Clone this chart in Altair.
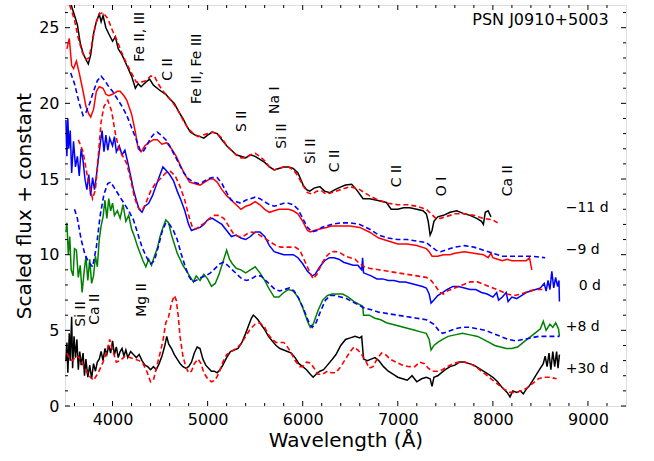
import altair as alt
import pandas as pd

# ---------------- data ----------------
# -11 d observed (black) and model (red dashed)
wl_m11_obs = [3520,3560,3600,3630,3660,3690,3720,3745,3770,3800,3830,3860,3880,3900,3930,3960,4000,4030,4060,4100,4150,4200,4240,4270,4300,4350,4390,4430,4470,4510,4560,4600,4650,4700,4740,4780,4820,4870,4920,4960,5000,5050,5100,5150,5200,5250,5300,5350,5400,5450,5500,5550,5600,5650,5700,5750,5800,5850,5900,5950,6005,6040,6075,6120,6180,6230,6285,6340,6390,6450,6515,6565,6635,6705,6780,6880,6930,7000,7060,7126,7200,7265,7300,7320,7340,7360,7380,7420,7480,7550,7620,7700,7760,7830,7880,7900,7920,7950,7980]
fl_m11_obs = [27.5,26.6,25.8,25.2,24.0,23.3,22.9,22.6,23.2,24.6,25.4,25.9,25.4,25.8,25.0,24.6,24.1,24.4,23.6,23.2,22.5,21.8,21.0,21.3,21.1,21.4,21.6,21.2,21.0,20.8,20.6,20.3,20.0,19.4,19.0,18.5,18.1,17.9,17.8,17.7,17.9,18.1,18.0,17.6,17.2,16.9,16.6,16.5,16.4,16.6,16.5,16.3,16.1,15.8,15.6,15.7,15.8,15.8,15.7,15.4,14.6,14.3,14.2,14.4,14.5,14.2,14.1,14.3,14.45,14.6,14.65,14.3,13.7,13.7,13.6,13.45,13.0,13.0,13.1,13.1,13.0,12.9,12.7,12.2,11.3,11.6,12.2,12.5,12.6,12.8,12.9,12.7,12.6,12.4,12.2,12.0,12.8,12.9,12.5]
wl_m11_mod = [3520,3560,3600,3640,3680,3720,3750,3780,3820,3860,3900,3950,4000,4050,4100,4150,4200,4250,4300,4350,4400,4440,4480,4520,4560,4600,4650,4700,4750,4800,4850,4900,4950,5000,5050,5100,5150,5200,5250,5300,5350,5400,5450,5500,5550,5600,5650,5700,5750,5800,5850,5900,5950,6000,6050,6100,6150,6200,6250,6300,6400,6500,6600,6700,6800,6900,7000,7100,7200,7300,7350,7400,7450,7500,7600,7700,7800,7900,8000,8050]
fl_m11_mod = [27.0,26.3,25.5,24.3,23.4,22.9,23.0,23.8,25.2,25.9,26.0,25.6,24.8,24.1,23.3,22.6,22.0,21.4,21.4,21.5,21.8,21.8,21.3,20.9,20.6,20.3,19.9,19.4,18.8,18.3,18.0,17.8,17.9,18.0,18.1,18.0,17.7,17.2,16.9,16.6,16.4,16.4,16.6,16.7,16.5,16.2,15.8,15.6,15.7,15.8,15.8,15.6,15.2,14.6,14.1,14.0,14.2,14.2,14.0,14.1,14.3,14.5,14.3,13.9,13.6,13.4,13.3,13.3,13.2,13.0,12.7,12.4,12.4,12.5,12.7,12.7,12.6,12.4,12.3,12.1]

# -9 d observed (red) and model (blue dashed)
wl_m9_obs = [3520,3545,3570,3590,3620,3650,3690,3720,3750,3770,3800,3830,3860,3900,3930,3960,4000,4050,4080,4120,4150,4200,4240,4270,4300,4340,4380,4430,4470,4520,4570,4620,4670,4720,4770,4810,4860,4920,4970,5020,5060,5100,5150,5200,5250,5300,5350,5400,5450,5500,5550,5600,5650,5700,5750,5800,5850,5900,5950,6000,6050,6080,6120,6180,6250,6300,6400,6500,6600,6700,6800,6900,7000,7100,7200,7300,7330,7360,7420,7480,7550,7600,7700,7800,7900,7950,7980,8000,8050,8100,8150,8200,8250,8300,8350,8385,8400,8410]
fl_m9_obs = [23.6,24.3,22.5,22.3,22.8,22.0,20.8,19.8,19.3,19.1,19.6,20.8,21.1,21.0,20.6,20.5,20.6,20.8,20.8,20.5,20.2,19.3,18.1,17.0,16.8,17.2,17.4,17.6,17.6,17.3,17.4,17.0,16.5,15.8,15.2,14.8,14.7,14.6,14.8,15.0,15.0,14.8,14.3,13.9,13.6,13.3,13.0,13.2,13.3,13.5,13.3,13.0,12.8,12.9,13.0,13.0,13.0,12.9,12.7,12.2,11.6,11.5,11.6,11.7,11.8,11.9,11.9,11.9,11.8,11.5,11.1,10.9,10.7,10.7,10.6,10.4,10.2,9.9,9.9,10.0,10.0,10.1,10.2,10.1,10.0,9.8,10.1,9.8,9.7,9.6,9.7,9.6,9.6,9.6,9.6,9.8,9.3,9.0]
wl_m9_mod = [3560,3600,3650,3690,3720,3760,3800,3840,3880,3920,3960,4000,4050,4100,4150,4200,4250,4290,4320,4360,4400,4440,4470,4510,4560,4600,4650,4700,4750,4800,4850,4900,4950,5000,5050,5100,5150,5200,5250,5300,5350,5400,5450,5500,5550,5600,5650,5700,5750,5800,5850,5900,5950,6000,6050,6100,6150,6200,6300,6400,6500,6600,6700,6800,6900,7000,7100,7200,7300,7400,7450,7500,7600,7700,7800,7900,8000,8100,8200,8300,8400,8550]
fl_m9_mod = [22.0,21.3,20.0,19.2,19.4,20.0,20.8,21.5,21.8,21.5,21.1,20.8,20.3,19.8,19.2,18.4,17.6,16.9,16.8,17.2,17.7,18.0,18.1,17.9,17.6,17.2,16.6,16.0,15.4,15.0,14.8,14.7,14.8,15.0,15.1,15.1,14.7,14.1,13.6,13.5,13.4,13.6,13.7,13.8,13.7,13.5,13.3,13.2,13.3,13.4,13.4,13.3,13.0,12.4,11.8,11.5,11.6,11.8,12.0,12.1,12.1,12.0,11.7,11.3,11.1,11.0,11.0,10.9,10.8,10.3,10.2,10.3,10.5,10.6,10.5,10.3,10.1,9.9,9.9,9.9,9.9,9.8]

# 0 d observed (blue) and model (red dashed)
wl_0_obs = [3510,3520,3530,3540,3555,3570,3590,3610,3630,3650,3670,3690,3710,3730,3750,3770,3790,3810,3830,3850,3870,3890,3910,3930,3950,3970,4000,4020,4040,4070,4100,4130,4160,4190,4220,4250,4280,4310,4340,4380,4420,4460,4500,4530,4560,4600,4640,4680,4720,4760,4800,4830,4870,4920,4960,5000,5050,5100,5150,5200,5250,5300,5350,5400,5450,5500,5550,5600,5650,5700,5750,5800,5850,5900,5950,6000,6050,6100,6130,6180,6230,6280,6330,6380,6430,6480,6530,6580,6620,6630,6640,6680,6720,6780,6840,6900,6960,7020,7080,7140,7200,7260,7300,7330,7350,7380,7420,7470,7520,7580,7640,7700,7760,7820,7880,7940,8000,8040,8060,8100,8140,8160,8200,8250,8300,8350,8400,8450,8500,8540,8560,8580,8600,8620,8640,8660,8680,8695,8700]
fl_0_obs = [18.9,16.5,19.0,17.0,18.2,15.4,17.5,15.8,16.5,15.2,17.0,16.2,15.0,14.3,15.3,13.9,15.1,14.3,15.2,16.3,17.3,18.2,16.8,17.9,16.9,17.7,17.2,17.8,16.8,17.2,16.6,16.9,16.1,15.2,14.3,13.6,13.0,12.8,13.2,13.4,13.9,14.6,15.3,15.8,15.6,15.3,14.9,14.2,13.6,12.9,12.0,11.6,11.7,11.8,12.0,12.3,12.4,12.2,12.0,11.6,11.2,11.3,11.1,11.0,11.2,11.5,11.5,11.2,10.6,10.2,10.1,10.0,10.0,10.0,9.8,9.4,8.9,8.6,8.7,9.2,9.6,9.8,9.8,9.7,9.5,9.4,9.3,9.3,9.0,9.8,8.8,8.7,8.6,8.4,8.4,8.3,8.3,8.2,8.2,8.1,8.0,7.9,7.8,7.4,6.8,7.0,7.3,7.5,7.7,7.9,7.9,7.8,7.7,7.7,7.5,7.4,7.2,7.5,7.0,7.2,7.5,6.9,7.2,7.1,7.3,7.5,7.6,7.7,7.8,8.1,7.6,8.3,7.7,8.9,7.8,8.5,7.9,8.3,6.9]
wl_0_mod = [3640,3690,3740,3790,3820,3850,3880,3910,3950,3990,4030,4070,4110,4150,4190,4230,4270,4310,4350,4400,4450,4500,4560,4610,4660,4710,4760,4800,4840,4880,4920,4970,5020,5070,5120,5170,5220,5270,5320,5370,5420,5470,5520,5570,5620,5670,5720,5770,5820,5870,5920,5970,6020,6070,6110,6150,6200,6250,6300,6350,6400,6450,6500,6550,6600,6650,6700,6800,6900,7000,7100,7200,7300,7350,7400,7440,7480,7520,7600,7680,7760,7840,7920,8000,8080,8150,8220,8300,8380,8450,8530]
fl_0_mod = [17.6,16.8,15.0,13.7,14.3,16.5,18.8,19.8,20.2,19.5,18.0,16.9,16.5,16.0,15.0,13.8,13.1,12.9,13.4,14.2,14.7,15.0,15.4,15.5,15.2,14.5,13.6,12.6,11.8,11.7,11.9,12.1,12.4,12.6,12.6,12.4,11.9,11.4,11.2,11.2,11.4,11.5,11.4,11.2,11.0,10.8,10.6,10.5,10.5,10.5,10.5,10.3,9.6,8.9,8.4,8.7,9.4,9.9,10.2,10.2,10.1,9.9,9.8,9.7,9.4,9.2,9.1,9.0,8.9,8.8,8.7,8.6,8.5,8.3,7.9,7.5,7.4,7.6,7.8,8.0,8.2,8.2,8.0,7.8,7.6,7.4,7.3,7.4,7.6,7.7,7.7]

# +8 d observed (green) and model (blue dashed)
wl_p8_obs = [3510,3520,3535,3550,3565,3585,3600,3620,3640,3660,3680,3700,3720,3740,3760,3780,3800,3820,3840,3860,3880,3900,3920,3940,3960,3980,4000,4020,4050,4080,4110,4140,4170,4200,4230,4260,4290,4320,4350,4380,4410,4440,4470,4500,4530,4560,4590,4620,4650,4680,4710,4740,4780,4820,4850,4880,4920,4960,5000,5040,5080,5120,5160,5200,5230,5260,5300,5350,5400,5450,5500,5550,5600,5650,5700,5750,5800,5850,5900,5950,6000,6050,6080,6110,6160,6210,6260,6310,6360,6420,6480,6540,6600,6630,6640,6700,6760,6820,6880,6940,7000,7060,7120,7180,7240,7300,7330,7350,7380,7420,7470,7530,7600,7680,7760,7840,7900,7960,8020,8080,8140,8200,8260,8320,8380,8420,8460,8500,8530,8560,8600,8630,8660,8690,8700]
fl_p8_obs = [11.5,12.1,10.0,11.2,9.0,8.6,10.4,10.3,8.5,9.3,7.5,8.8,9.9,8.3,9.7,8.1,8.6,9.9,9.2,11.0,11.9,12.5,13.6,12.4,13.7,12.9,13.4,12.6,12.9,12.4,13.3,12.2,12.6,11.7,11.2,10.6,10.1,9.6,9.2,9.7,9.3,9.9,10.4,11.2,11.8,12.3,12.1,11.3,10.7,10.1,9.7,9.3,8.9,8.5,8.2,8.6,8.3,8.7,8.4,7.9,8.1,8.7,9.5,10.3,9.7,9.4,9.1,9.0,8.8,9.0,9.2,8.8,8.3,7.7,7.2,7.2,7.5,7.7,7.6,7.2,6.5,5.6,5.2,5.4,6.3,7.0,7.3,7.4,7.4,7.4,7.2,6.9,6.7,6.6,6.0,6.0,5.8,5.7,5.5,5.4,5.3,5.2,5.1,5.0,4.9,4.8,4.4,3.7,4.0,4.2,4.4,4.6,4.7,4.8,4.7,4.6,4.4,4.2,4.0,3.9,3.8,3.8,3.9,4.2,4.5,4.7,4.9,5.1,5.6,5.0,5.4,5.2,5.5,5.1,4.6]
wl_p8_mod = [3600,3630,3670,3710,3750,3790,3830,3870,3910,3950,3980,4020,4070,4120,4170,4220,4270,4310,4360,4400,4440,4480,4520,4560,4600,4640,4680,4720,4760,4800,4840,4880,4930,4980,5030,5080,5130,5170,5210,5260,5310,5360,5410,5460,5510,5560,5610,5660,5710,5760,5810,5860,5910,5960,6010,6060,6100,6140,6190,6240,6290,6340,6400,6460,6520,6580,6640,6700,6800,6900,7000,7100,7200,7300,7380,7430,7470,7520,7600,7680,7760,7840,7920,8000,8080,8160,8240,8320,8400,8480,8560,8640,8700]
fl_p8_mod = [13.0,12.4,11.0,10.0,9.5,9.2,10.5,12.6,14.0,14.7,14.8,14.4,13.9,13.4,12.9,12.3,11.3,10.5,9.8,9.4,9.6,10.5,11.5,12.1,12.0,11.6,11.0,10.1,9.3,8.6,8.2,8.3,8.5,8.6,8.8,9.1,9.4,9.5,9.3,9.0,8.7,8.4,8.3,8.4,8.6,8.6,8.3,8.0,7.7,7.6,7.7,7.8,7.6,7.1,6.4,5.6,5.2,5.5,6.3,7.0,7.3,7.3,7.2,7.1,6.9,6.7,6.5,6.4,6.2,6.1,6.0,5.9,5.8,5.7,5.4,5.0,4.8,4.9,5.1,5.2,5.2,5.1,5.0,4.8,4.6,4.4,4.3,4.4,4.5,4.6,4.6,4.6,4.6]

# +30 d observed (black) and model (red dashed)
wl_p30_obs = [3510,3520,3530,3545,3555,3570,3580,3595,3610,3625,3640,3655,3670,3690,3705,3720,3740,3760,3780,3800,3820,3840,3860,3880,3900,3920,3940,3960,3980,4000,4020,4040,4060,4080,4100,4120,4140,4160,4190,4220,4250,4280,4310,4340,4370,4400,4430,4460,4490,4520,4550,4570,4590,4620,4650,4680,4710,4740,4770,4800,4830,4860,4890,4920,4950,4980,5010,5040,5070,5100,5130,5160,5200,5240,5280,5320,5360,5400,5430,5460,5480,5500,5530,5560,5600,5640,5680,5720,5760,5800,5840,5880,5920,5960,6000,6040,6080,6110,6140,6180,6220,6260,6300,6350,6400,6450,6500,6550,6600,6620,6640,6680,6720,6760,6800,6850,6900,6950,7000,7050,7100,7150,7200,7250,7300,7340,7360,7380,7420,7460,7500,7550,7600,7650,7700,7750,7800,7850,7900,7950,8000,8050,8100,8150,8180,8210,8250,8290,8320,8350,8380,8420,8460,8500,8530,8550,8570,8590,8610,8630,8650,8670,8685,8700]
fl_p30_obs = [3.0,4.2,2.2,4.8,3.0,5.9,2.5,4.6,3.2,4.4,2.4,3.6,2.7,3.5,2.0,3.1,1.9,2.7,1.8,2.8,2.3,2.9,3.1,3.6,3.0,3.8,3.4,4.0,3.5,4.3,3.4,3.9,3.2,3.6,3.8,3.3,3.7,3.2,3.6,3.4,3.2,3.4,3.0,2.7,2.6,2.4,2.6,2.4,2.8,3.3,4.0,4.6,4.1,3.8,3.4,3.1,2.8,2.6,2.5,2.6,2.9,3.5,3.9,3.8,3.1,2.7,2.5,2.3,2.3,2.2,2.4,2.7,3.2,3.6,3.7,3.8,4.2,4.8,5.3,5.8,6.0,5.9,5.7,5.4,5.05,4.6,4.3,4.0,3.8,3.7,3.6,3.5,3.2,2.8,2.6,2.4,2.1,1.9,2.1,2.3,2.4,2.7,3.0,3.4,4.0,4.4,4.5,4.6,4.5,4.6,3.1,3.0,3.1,3.2,3.0,2.6,2.3,2.1,1.9,1.8,1.7,2.0,1.6,1.8,1.9,1.8,1.3,1.9,2.0,2.2,2.4,2.6,2.7,2.9,2.9,2.8,2.7,2.5,2.3,2.1,1.9,1.6,1.2,0.9,0.6,1.0,0.9,1.0,0.8,1.1,1.3,1.7,2.1,2.5,2.8,3.3,2.6,3.5,2.4,3.6,2.6,3.6,2.5,3.4]
wl_p30_mod = [3520,3550,3580,3620,3650,3700,3750,3800,3850,3900,3940,3970,4000,4040,4080,4130,4180,4230,4280,4320,4360,4400,4430,4460,4500,4530,4560,4590,4620,4650,4670,4690,4710,4740,4770,4800,4830,4860,4900,4930,4960,5000,5040,5080,5120,5160,5200,5250,5300,5350,5400,5450,5500,5550,5600,5640,5680,5720,5760,5800,5830,5870,5920,5970,6000,6040,6080,6120,6160,6210,6260,6300,6350,6400,6450,6500,6540,6580,6620,6660,6700,6740,6780,6830,6870,6920,6980,7050,7120,7180,7230,7280,7320,7370,7420,7470,7520,7580,7640,7700,7760,7820,7880,7940,8000,8060,8120,8180,8240,8300,8360,8420,8480,8530,8600,8670]
fl_p30_mod = [3.5,3.1,3.0,3.3,3.2,2.6,2.0,1.7,2.2,2.9,3.6,4.4,3.7,2.9,3.0,3.3,3.2,3.1,3.0,2.8,2.3,1.6,1.7,2.5,3.5,4.3,5.5,5.9,6.8,7.3,7.0,6.0,4.6,3.3,2.6,2.2,2.3,2.8,3.1,2.8,2.2,1.8,1.6,1.7,2.2,2.9,3.4,3.6,3.8,4.1,4.6,5.1,5.4,5.5,5.2,4.7,4.4,4.2,4.2,4.2,4.0,3.6,3.0,2.6,2.6,2.9,2.85,2.5,2.1,2.1,2.3,2.2,2.2,2.6,3.1,3.6,3.9,3.7,3.4,3.0,2.5,2.6,3.1,3.5,3.4,3.1,2.9,2.7,2.6,2.6,2.9,2.8,2.5,2.3,2.3,2.4,2.6,2.8,2.9,2.9,2.8,2.6,2.3,2.0,1.7,1.4,1.1,0.9,0.9,1.0,1.2,1.5,1.8,1.9,1.9,1.8]

# line identifications (rotated labels)
ion_text = ["Fe II, III", "C II", "Fe II, Fe III", "S II", "Na I", "Si II", "Si II", "C II", "C II", "O I", "Ca II", "Si II", "Ca II", "Mg II"]
ion_x = [4287, 4581, 4886, 5360, 5706, 5779, 6084, 6337, 6989, 7462, 8155, 3666, 3813, 4308]
ion_y = [22.75, 21.5, 19.96, 18.1, 19.3, 17.0, 16.0, 15.45, 14.45, 13.86, 13.86, 5.24, 5.37, 5.9]

# epoch labels
epoch_text = ["\u221211 d", "\u22129 d", "0 d", "+8 d", "+30 d"]
epoch_x = [8766, 8766, 8903, 8766, 8766]
epoch_y = [13.1, 10.3, 7.9, 5.2, 2.45]

name_text = ["PSN J0910+5003"]
name_x = [9218]
name_y = [25.5]

x_major = [4000, 5000, 6000, 7000, 8000, 9000]
x_minor = [v for v in range(3600, 9400, 200) if v % 1000 != 0]
y_major = [0, 5, 10, 15, 20, 25]
y_minor = [v for v in range(1, 27) if v % 5 != 0]

# ---------------- chart ----------------
W, H = 561, 401
FONT = "DejaVu Sans"
xscale = alt.Scale(domain=[3500, 9400], nice=False, zero=False)
yscale = alt.Scale(domain=[0, 26.5], nice=False, zero=False)
xaxis = alt.Axis(title="Wavelength (\u00c5)", values=x_major, ticks=False, domain=False, grid=False,
                 labelFontSize=16, titleFontSize=20, labelPadding=5, titlePadding=3,
                 labelColor="black", titleColor="black", titleFontWeight="normal", labelFont=FONT, titleFont=FONT,
                 format="d")
yaxis = alt.Axis(title="Scaled flux + constant", values=y_major, ticks=False, domain=False, grid=False,
                 labelFontSize=16, titleFontSize=20, labelPadding=6, titlePadding=4,
                 labelColor="black", titleColor="black", titleFontWeight="normal", labelFont=FONT, titleFont=FONT)


def X(f):
    return alt.X(f, type="quantitative", scale=xscale, axis=xaxis)


def Y(f):
    return alt.Y(f, type="quantitative", scale=yscale, axis=yaxis)


series = [
    (wl_m11_obs, fl_m11_obs, "black", False),
    (wl_m11_mod, fl_m11_mod, "#ff0000", True),
    (wl_m9_obs, fl_m9_obs, "#ff0000", False),
    (wl_m9_mod, fl_m9_mod, "#0000ff", True),
    (wl_0_obs, fl_0_obs, "#0000ff", False),
    (wl_0_mod, fl_0_mod, "#ff0000", True),
    (wl_p8_obs, fl_p8_obs, "#008000", False),
    (wl_p8_mod, fl_p8_mod, "#0000ff", True),
    (wl_p30_obs, fl_p30_obs, "black", False),
    (wl_p30_mod, fl_p30_mod, "#ff0000", True),
]

layers = []
for wl, fl, col, dashed in series:
    df = pd.DataFrame({"wl": wl, "fl": fl})
    kw = dict(color=col, strokeWidth=1.6, clip=True)
    if dashed:
        kw["strokeDash"] = [5, 3]
    else:
        kw["strokeWidth"] = 1.5
    layers.append(alt.Chart(df).mark_line(**kw).encode(x=X("wl"), y=Y("fl")))


# inward ticks on all four sides
def tick_layers(vals, length):
    d = pd.DataFrame({"v": vals})
    base = alt.Chart(d).mark_rule(color="black", strokeWidth=1)
    return [
        base.encode(x=X("v"), y=alt.value(H), y2=alt.value(H - length)),
        base.encode(x=X("v"), y=alt.value(0), y2=alt.value(length)),
    ]


def ytick_layers(vals, length):
    d = pd.DataFrame({"v": vals})
    base = alt.Chart(d).mark_rule(color="black", strokeWidth=1)
    return [
        base.encode(y=Y("v"), x=alt.value(0), x2=alt.value(length)),
        base.encode(y=Y("v"), x=alt.value(W), x2=alt.value(W - length)),
    ]


layers += tick_layers(x_major, 5) + tick_layers(x_minor, 3)
layers += ytick_layers(y_major, 5) + ytick_layers(y_minor, 3)

ion_df = pd.DataFrame({"x": ion_x, "y": ion_y, "t": ion_text})
layers.append(alt.Chart(ion_df).mark_text(angle=270, align="left", baseline="middle", fontSize=14,
                                          font=FONT, color="black").encode(x=X("x"), y=Y("y"), text="t:N"))

ep_df = pd.DataFrame({"x": epoch_x, "y": epoch_y, "t": epoch_text})
layers.append(alt.Chart(ep_df).mark_text(align="left", baseline="middle", fontSize=14,
                                         font=FONT, color="black").encode(x=X("x"), y=Y("y"), text="t:N"))

nm_df = pd.DataFrame({"x": name_x, "y": name_y, "t": name_text})
layers.append(alt.Chart(nm_df).mark_text(align="right", baseline="middle", fontSize=16,
                                         font=FONT, color="black").encode(x=X("x"), y=Y("y"), text="t:N"))

chart = alt.layer(*layers).properties(
    width=W, height=H,
    autosize=alt.AutoSizeParams(type="none"),
    padding={"left": 65, "top": 5, "right": 28, "bottom": 55},
    background="white",
).configure_view(stroke="black", strokeWidth=1).configure(font=FONT)

chart.save("out.html", embed_options={"renderer": "svg", "actions": False})
